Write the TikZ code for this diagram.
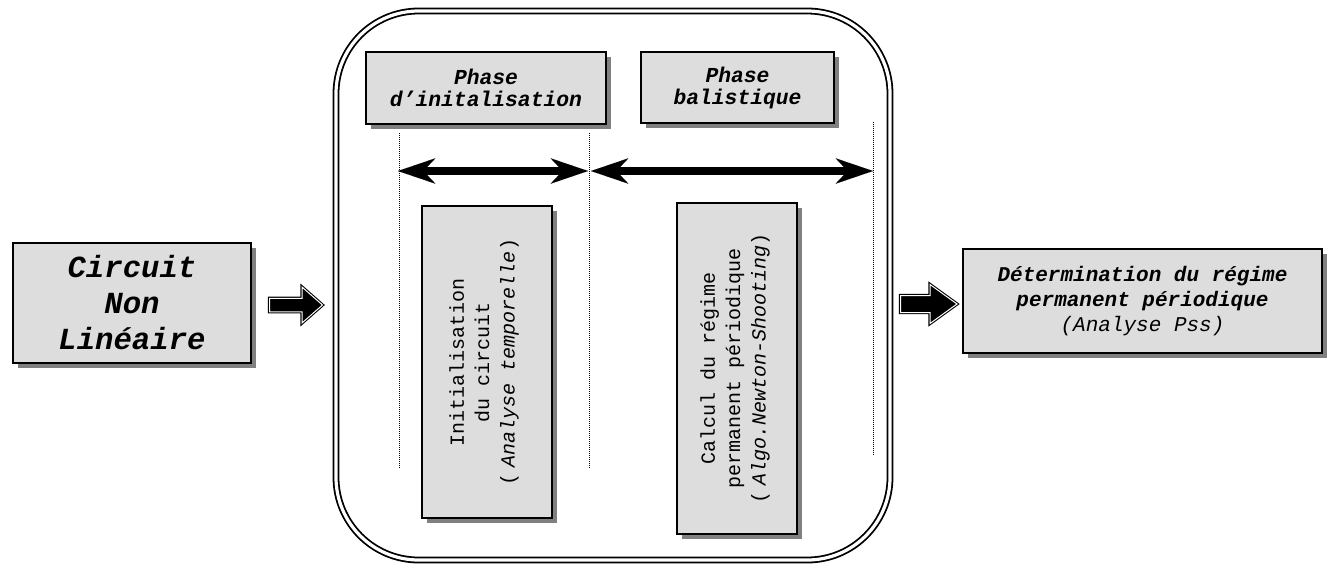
\documentclass[tikz,border=0pt]{standalone}
\usepackage{fontspec}
\setmonofont{Liberation Mono}
\usetikzlibrary{arrows.meta,shadows}
\definecolor{boxgray}{HTML}{DDDDDD}
\definecolor{shadowgray}{HTML}{808080}
\tikzset{
  box/.style={draw=black, line width=1.2pt, fill=boxgray, inner sep=0pt, align=center,
    drop shadow={shadow xshift=4pt, shadow yshift=-4pt, fill=shadowgray, opacity=1}},
  bigtitle/.style={font={\ttfamily\bfseries\itshape\fontsize{23}{27}\selectfont}},
  phasetext/.style={font={\ttfamily\bfseries\itshape\fontsize{16}{16.5}\selectfont}},
  dettext/.style={font={\ttfamily\bfseries\itshape\fontsize{15.75}{19}\selectfont}},
  verttext/.style={rotate=90, align=center, inner sep=0pt, font={\ttfamily\fontsize{15}{19}\selectfont}},
  frame/.style={draw=black, double=white, double distance=2.4pt, line width=1.35pt,
    rounded corners=62pt, inner sep=0pt},
  dotline/.style={line width=0.75pt, dash pattern=on 0.75pt off 0.75pt},
  bigarrow/.style={line width=6pt,
    {Stealth[length=28pt,width=19pt,inset=9pt,line width=0.01pt]}-{Stealth[length=28pt,width=19pt,inset=9pt,line width=0.01pt]}},
  blockarrow/.style={draw=black, fill=black, double=white, double distance=0.75pt,
    line width=0.8pt, line join=miter},
}
\begin{document}
\begin{tikzpicture}[x=0.75pt,y=-0.75pt]
\useasboundingbox (0,0) rectangle (1330,564);

% main frame
\node[frame, minimum width=415.5pt, minimum height=411.75pt] (frame) at (613,285.5) {};

% boxes
\node[box, bigtitle, minimum width=178.5pt, minimum height=90pt] (circ) at (132,303)
  {Circuit\\Non\\Linéaire};
\node[box, phasetext, minimum width=180pt, minimum height=54pt] (ph1) at (486,88)
  {Phase\\d’initalisation};
\node[box, phasetext, minimum width=144.75pt, minimum height=53.25pt] (ph2) at (737.5,87.5)
  {Phase\\balistique};
\node[box, minimum width=97.5pt, minimum height=234pt] (init) at (487,362) {};
\node[verttext] (inittxt) at (484,362)
  {Initialisation\\du circuit\\(\hspace{0.3em}\textit{Analyse temporelle})};
\node[box, minimum width=90pt, minimum height=248.25pt] (calc) at (737,368.5) {};
\node[verttext] (calctxt) at (735,368.5)
  {Calcul du régime\\permanent périodique\\(\hspace{0.3em}\textit{Algo.Newton-Shooting})};
\node[box, dettext, minimum width=269.25pt, minimum height=78pt] (det) at (1142.5,301)
  {Détermination du régime\\permanent périodique\\{\mdseries (Analyse Pss)}};

% dotted markers
\coordinate (d1t) at (399,133); \coordinate (d1b) at (399,468);
\coordinate (d2t) at (589,133); \coordinate (d2b) at (589,468);
\coordinate (d3t) at (873,122); \coordinate (d3b) at (873,455);
\draw[dotline] (d1t) -- (d1b);
\draw[dotline] (d2t) -- (d2b);
\draw[dotline] (d3t) -- (d3b);

% double-headed arrows
\coordinate (a1) at (398,171); \coordinate (a2) at (588,171);
\coordinate (a3) at (591,171); \coordinate (a4) at (873,171);
\draw[bigarrow] (a1) -- (a2);
\draw[bigarrow] (a3) -- (a4);

% block arrows
\coordinate (b1) at (269.5,305);
\draw[blockarrow] (b1) -- ++(0,-6.75) -- ++(32.5,0) -- ++(0,-11.25) -- ++(20.5,18)
  -- ++(-20.5,18) -- ++(0,-11.25) -- ++(-32.5,0) -- cycle;
\coordinate (b2) at (900.5,304);
\draw[blockarrow] (b2) -- ++(0,-8.5) -- ++(29.5,0) -- ++(0,-11) -- ++(27,19.5)
  -- ++(-27,19.5) -- ++(0,-11) -- ++(-29.5,0) -- cycle;
\end{tikzpicture}
\end{document}
